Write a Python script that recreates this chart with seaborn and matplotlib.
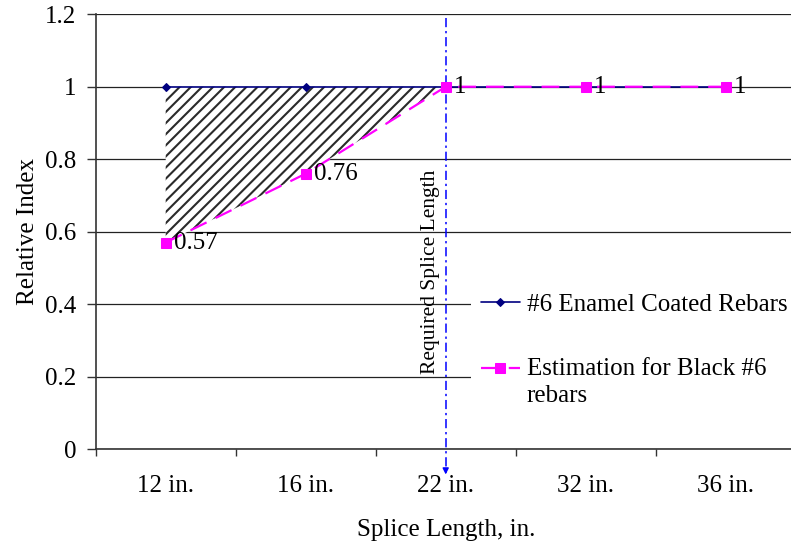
import matplotlib
matplotlib.use("Agg")
import matplotlib.pyplot as plt
import seaborn as sns
import numpy as np
from matplotlib.legend_handler import HandlerLine2D

# chart data
splice_labels = ["12 in.", "16 in.", "22 in.", "32 in.", "36 in."]
enamel_coated = [1, 1, 1, 1, 1]
black_estimate = [0.57, 0.76, 1, 1, 1]
y_ticks = [0, 0.2, 0.4, 0.6, 0.8, 1.0, 1.2]
y_tick_labels = ["0", "0.2", "0.4", "0.6", "0.8", "1", "1.2"]
required_idx = 2  # 22 in. = required splice length


class RaisedLineHandler(HandlerLine2D):
    """Legend handle lined up with the first line of a two-line label."""

    def __init__(self, raise_by=0, **kw):
        super().__init__(**kw)
        self.raise_by = raise_by

    def create_artists(self, legend, orig_handle, xdescent, ydescent,
                       width, height, fontsize, trans):
        return super().create_artists(legend, orig_handle, xdescent,
                                      ydescent - 2 * self.raise_by,
                                      width, height, fontsize, trans)


sns.set_theme(style="white")
plt.rcParams["font.family"] = ["Liberation Serif", "DejaVu Serif"]
plt.rcParams["text.color"] = "black"
plt.rcParams["axes.labelcolor"] = "black"
plt.rcParams["xtick.color"] = "black"
plt.rcParams["ytick.color"] = "black"
plt.rcParams["hatch.linewidth"] = 1.5

W, H = 791, 546
fig = plt.figure(figsize=(W / 100, H / 100), dpi=100)
ax = fig.add_axes([95.7 / W, (H - 449) / H, 700 / W, (449 - 14.3) / H])

x = np.arange(len(splice_labels))

# shaded gap between the two curves up to the required length
n = required_idx + 1
ax.fill_between(x[:n], black_estimate[:n], enamel_coated[:n],
                facecolor="white", edgecolor="#2a2a2a", hatch="///",
                linewidth=0, zorder=2)

sns.lineplot(x=x, y=enamel_coated, ax=ax, color="#000080", linewidth=1.2,
             marker="D", markersize=4.5, markeredgecolor="#000080",
             label="#6 Enamel Coated Rebars", zorder=3)
sns.lineplot(x=x, y=black_estimate, ax=ax, color="#FF00FF", linewidth=1.6,
             linestyle=(0, (8, 4.5)), marker="s", markersize=6.5,
             markeredgecolor="#FF00FF",
             label="Estimation for Black #6\nrebars", zorder=4)

for xi, v in zip(x, black_estimate):
    ax.annotate(f"{v:g}", (xi, v), xytext=(6.2, 0), textcoords="offset points",
                ha="left", va="center", fontsize=18, zorder=5)

# required splice length marker
ax.plot([required_idx, required_idx], [1.19, -0.065], color="blue", lw=1.1,
        ls=(0, (6, 2.5, 1.5, 2.5)), clip_on=False, zorder=3)
ax.annotate("", xy=(required_idx, -0.078), xytext=(required_idx, -0.05),
            arrowprops=dict(arrowstyle="-|>", color="blue", lw=1,
                            mutation_scale=9),
            annotation_clip=False)
ax.text(1.89, 0.49, "Required Splice Length", rotation=90,
        ha="center", va="center", fontsize=15.5)

ax.set_xlim(-0.5, 4.5)
ax.set_ylim(0, 1.2)

ax.set_yticks(y_ticks)
ax.set_yticklabels(y_tick_labels, fontsize=18)
ax.tick_params(axis="y", left=True, direction="out", length=6.5, width=1,
               pad=7.5, color="#333333")
ax.set_xticks(x)
ax.set_xticklabels(splice_labels, fontsize=18)
ax.tick_params(axis="x", which="major", length=0, pad=19)
ax.set_xticks(np.arange(-0.5, len(x), 1), minor=True)
ax.tick_params(axis="x", which="minor", bottom=True, direction="out",
               length=5, width=1, color="#333333")

ax.yaxis.grid(True, color="#222222", linewidth=0.9)
ax.set_axisbelow(True)
for side in ["top", "right"]:
    ax.spines[side].set_visible(False)
for side in ["left", "bottom"]:
    ax.spines[side].set_color("#333333")
    ax.spines[side].set_linewidth(1.2)

ax.set_xlabel("Splice Length, in.", fontsize=18)
ax.set_ylabel("Relative Index", fontsize=18)
ax.xaxis.set_label_coords(0.5, -0.16)
ax.yaxis.set_label_coords(-0.0804, 0.5)

handles, labels = ax.get_legend_handles_labels()
leg = ax.legend(handles, labels, loc="upper left",
                bbox_to_anchor=(470.7 / W, (H - 283.7) / H),
                bbox_transform=fig.transFigure, fontsize=18, frameon=True,
                fancybox=False, framealpha=1, edgecolor="none",
                facecolor="white", borderpad=0.4, handlelength=1.57,
                handletextpad=0.27, labelspacing=1.66, borderaxespad=0,
                handler_map={handles[1]: RaisedLineHandler(raise_by=10)})
leg.get_texts()[1].set_linespacing(1.3)

fig.savefig("out.png", dpi=100)
